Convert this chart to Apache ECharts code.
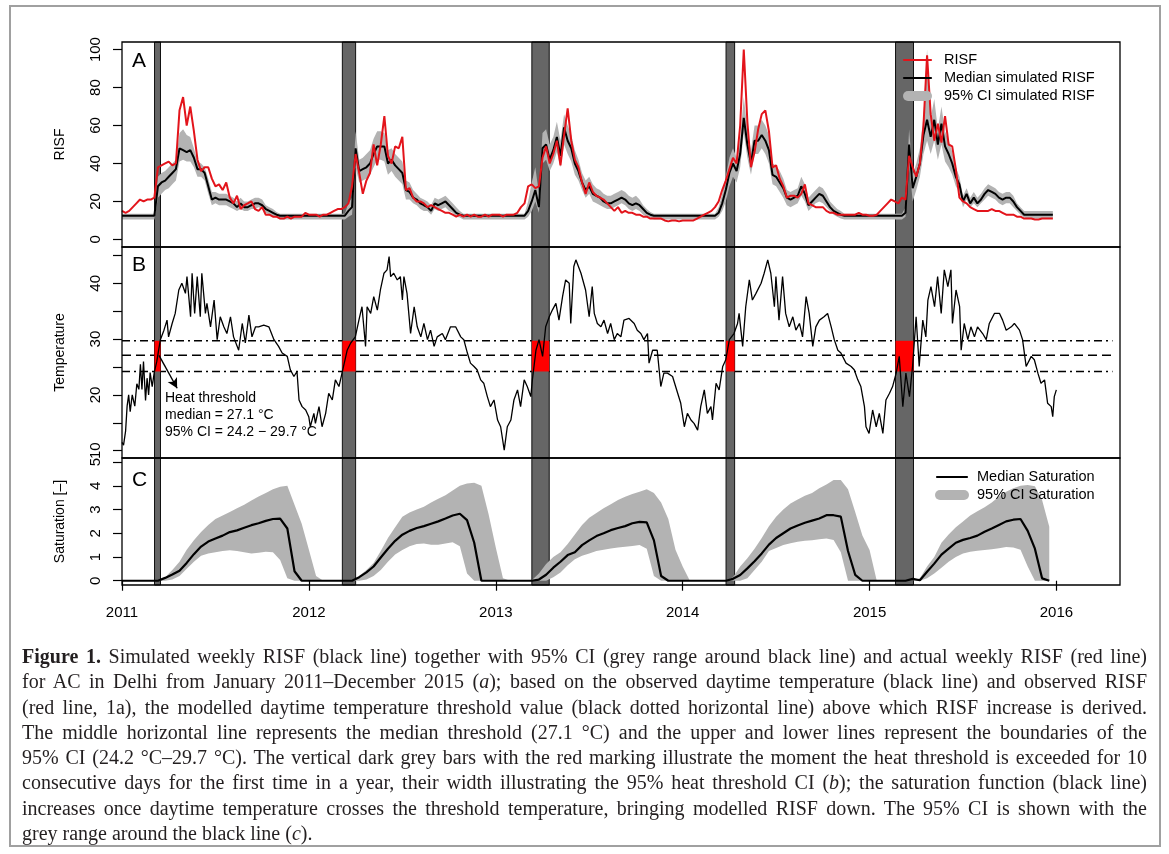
<!DOCTYPE html>
<html>
<head>
<meta charset="utf-8">
<script src="https://cdn.jsdelivr.net/npm/echarts@6/dist/echarts.min.js"></script>
<style>
html,body{margin:0;padding:0;background:#fff;}
#wrap{position:relative;width:1169px;height:854px;overflow:hidden;}
#chart{position:absolute;left:0;top:0;width:1169px;height:854px;}
#caption{position:absolute;left:22px;top:644px;width:1125px;font-family:"Liberation Serif","DejaVu Serif",serif;font-size:20px;line-height:25.3px;color:#231f20;}
#caption div{white-space:nowrap;height:25.3px;}
</style>
</head>
<body>
<div id="wrap">
<div id="chart"></div>
<div id="caption">
<div class="j"><span><b>Figure 1.</b> Simulated weekly RISF (black line) together with 95% CI (grey range around black line) and actual weekly RISF (red line)</span></div>
<div class="j"><span>for AC in Delhi from January 2011–December 2015 (<i>a</i>); based on the observed daytime temperature (black line) and observed RISF</span></div>
<div class="j"><span>(red line, 1a), the modelled daytime temperature threshold value (black dotted horizontal line) above which RISF increase is derived.</span></div>
<div class="j"><span>The middle horizontal line represents the median threshold (27.1 °C) and the upper and lower lines represent the boundaries of the</span></div>
<div class="j"><span>95% CI (24.2 °C–29.7 °C). The vertical dark grey bars with the red marking illustrate the moment the heat threshold is exceeded for 10</span></div>
<div class="j"><span>consecutive days for the first time in a year, their width illustrating the 95% heat threshold CI (<i>b</i>); the saturation function (black line)</span></div>
<div class="j"><span>increases once daytime temperature crosses the threshold temperature, bringing modelled RISF down. The 95% CI is shown with the</span></div>
<div><span>grey range around the black line (<i>c</i>).</span></div>
</div>
</div>
<script>
// ---------------- DATA ----------------
const years = [2011, 2012, 2013, 2014, 2015];
const xTicks = [2011, 2012, 2013, 2014, 2015, 2016];
const risfTicks = [0, 20, 40, 60, 80, 100];
const tempTicks = [10, 15, 20, 25, 30, 35, 40, 45];
const tempLabels = [10, 20, 30, 40];
const satTicks = [0, 1, 2, 3, 4, 5];

// threshold exceedance bars (decimal year)
const barStart = [2011.174, 2012.179, 2013.193, 2014.232, 2015.139];
const barEnd   = [2011.206, 2012.250, 2013.286, 2014.278, 2015.235];
const thrMedian = 27.1, thrLow = 24.2, thrHigh = 29.7;
const thrXStart = 2011, thrXEnd = 2016.3;

// weekly observed RISF (red)
const risfObs2011 = [15,14,15,17,19,21,20,21,21,22,38,39,40,41,39,40,68,75,60,70,57,42,36,38,38,32,28,29,26,30,22,19,23,16,18,19,20,16,15,17,13,13,12,12,11,11,12,11,12,12,12,14];
const risfObs2012 = [13,13,13,12,13,13,14,15,16,16,17,19,28,45,35,24,31,35,50,39,50,65,44,40,49,48,54,26,27,22,20,20,19,17,18,17,16,15,14,14,13,12,13,12,13,12,13,12,12,13,12,13];
const risfObs2013 = [13,13,12,13,13,13,14,17,19,28,29,27,28,43,49,40,45,52,39,55,69,52,42,38,30,24,30,25,23,22,21,19,17,15,17,14,15,14,14,13,13,12,12,11,11,11,11,10,9.5,10,10,9.5];
const risfObs2014 = [10,10,10,10,11,12,13,14,15,17,20,26,31,37,43,40,60,100,62,38,46,58,66,68,57,38,39,32,28,22,23,23,22,24,29,19,18,17,17,17,15,14,14,13,13,13,13,13,13,14,13,13];
const risfObs2015 = [12.5,12.5,13,15,17,19,21,20,19,22,21,44,38,33,40,60,97,66,52,61,51,65,50,49,37,22,20,19,17,16,15,15,15,15,16,15,15,14,13,13,13,12,12,11,11,11,10.5,10.5,11,11,11,11];

// weekly median simulated RISF (black)
const risfMed2011 = [12.5,12.5,12.5,12.5,12.5,12.5,12.5,12.5,12.5,12.5,28,30,31,33,35,37,48,47,46,47,43,37,37,35,28,21,22,21,21,21,20,19,17,19,17,17,18,19,19,18,16,15,14,13,12.5,12.5,12.5,12.5,12.5,12.5,12.5,12.5];
const risfMed2012 = [12.5,12.5,12.5,12.5,12.5,12.5,12.5,12.5,12.5,12.5,12.5,15,17,48,36,37,38,40,45,49,49,49,40,42,39,37,35,26,25,22,21,19,18,17,15,19,18,19,20,18,16,14,13,12.5,12.5,12.5,12.5,12.5,12.5,12.5,12.5,12.5];
const risfMed2013 = [12.5,12.5,12.5,12.5,12.5,12.5,12.5,12.5,12.5,15,20,26,17,48,50,42,47,54,44,59,52,48,40,36,30,26,28,24,23,22,20,19,19,20,21,22,21,19,18,19,18,16,14,13,12.5,12.5,12.5,12.5,12.5,12.5,12.5,12.5];
const risfMed2014 = [12.5,12.5,12.5,12.5,12.5,12.5,12.5,12.5,12.5,12.5,14,19,26,35,40,36,45,64,50,40,52,52,55,52,47,34,33,30,27,22,21,22,23,28,24,18,20,22,24,23,20,17,15,14,13,12.5,12.5,12.5,12.5,12.5,12.5,12.5];
const risfMed2015 = [12.5,12.5,12.5,12.5,12.5,12.5,12.5,12.5,12.5,12.5,14,50,27,33,40,55,63,54,63,50,61,49,45,40,33,29,20,24,19,22,19,21,24,26,25,24,22,21,22,22,20,17,15,13,13,13,13,13,13,13,13,13];

// weekly 95% CI of simulated RISF
const risfLo2011 = [10.5,10.5,10.5,10.5,10.5,10.5,10.5,10.5,10.5,10.5,22,24,26,27,29,31,41,42,41,41,38,33,33,31,24,18,19,18,18,18,17,16,15,16,15,15,16,16,17,16,14,13,12,11.5,10.5,10.5,10.5,10.5,10.5,10.5,10.5,10.5];
const risfHi2011 = [13.5,13.5,13.5,13.5,13.5,13.5,13.5,13.5,13.5,13.5,33,35,36,38,40,42,56,58,55,54,48,41,40,38,32,25,25,24,24,24,23,22,20,22,20,20,21,22,22,21,18,17,16,14.5,13.5,13.5,13.5,13.5,13.5,13.5,13.5,13.5];
const risfLo2012 = [10.5,10.5,10.5,10.5,10.5,10.5,10.5,10.5,10.5,10.5,10.5,12,13,38,30,31,32,34,38,42,42,41,34,36,33,31,29,21,21,19,18,16,15,15,13,16,15,16,17,15,14,12,11.5,10.5,10.5,10.5,10.5,10.5,10.5,10.5,10.5,10.5];
const risfHi2012 = [13.5,13.5,13.5,13.5,13.5,13.5,13.5,13.5,13.5,13.5,13.5,19,22,57,42,43,45,47,53,57,57,56,47,48,45,43,41,31,30,26,24,22,21,20,18,22,21,22,23,21,19,17,15,13.5,13.5,13.5,13.5,13.5,13.5,13.5,13.5,13.5];
const risfLo2013 = [10.5,10.5,10.5,10.5,10.5,10.5,10.5,10.5,10.5,12,15,20,14,40,42,36,40,46,38,50,45,41,34,31,26,22,24,20,19,18,17,16,16,17,18,19,18,16,15,16,15,13,12,11.5,10.5,10.5,10.5,10.5,10.5,10.5,10.5,10.5];
const risfHi2013 = [13.5,13.5,13.5,13.5,13.5,13.5,13.5,13.5,13.5,20,30,38,24,56,58,50,54,62,52,66,60,55,47,42,35,31,33,29,27,26,24,23,23,24,25,26,25,23,22,23,21,18,16,14.5,13.5,13.5,13.5,13.5,13.5,13.5,13.5,13.5];
const risfLo2014 = [10.5,10.5,10.5,10.5,10.5,10.5,10.5,10.5,10.5,10.5,12,15,20,28,33,30,38,56,43,34,45,45,48,45,40,29,28,25,22,18,17,18,19,23,20,15,17,19,20,19,17,15,13,12,11,10.5,10.5,10.5,10.5,10.5,10.5,10.5];
const risfHi2014 = [13.5,13.5,13.5,13.5,13.5,13.5,13.5,13.5,13.5,13.5,17,24,33,43,48,43,53,75,58,47,60,60,63,60,55,40,39,36,32,26,25,26,27,33,29,22,24,26,28,27,24,20,18,16,15,13.5,13.5,13.5,13.5,13.5,13.5,13.5];
const risfLo2015 = [10.5,10.5,10.5,10.5,10.5,10.5,10.5,10.5,10.5,10.5,12,40,20,26,33,45,52,45,52,42,50,41,38,34,28,25,17,21,17,19,17,19,21,23,22,21,19,18,19,19,17,15,13,11.5,11,11,11,11,11,11,11,11];
const risfHi2015 = [13.5,13.5,13.5,13.5,13.5,13.5,13.5,13.5,13.5,13.5,17,58,34,40,48,65,100,64,74,58,70,57,52,46,38,33,23,27,22,25,22,24,27,29,28,27,25,24,25,25,23,19,17,15,15,15,15,15,15,15,15,15];

// daytime temperature (day offset since 1 Jan 2011, degC)
const tempDay2011 = [0,3,7,10,13,16,20,25,29,33,36,39,42,46,49,52,55,59,63,68,75,82,88,91,98,104,111,117,124,127,134,137,142,147,153,156,163,166,173,180,186,192,199,205,212,218,228,235,241,248,254,261,267,277,287,297,306,313,323,329,336,342,346,352,359];
const tempC2011   = [11.5,11,13.5,18,20,17,20,18,22,21,25.5,21,26,19,23,20,24,21.5,24,26,29.9,31.6,33.4,30.4,32.8,34.6,38.8,40,38.2,41.2,34,41.8,34.6,41.2,34,41.8,34.6,36.4,32.2,37,29.9,34,32.2,31,34,30.4,28,32.8,29.3,34.3,30.4,32.2,32.2,32.5,32.2,29.9,28.7,27.5,26.9,24.5,23.3,24.2,19.1,17.9,17.3];
const tempDay2012 = [365,368,375,378,385,391,398,404,411,417,424,430,440,447,456,463,469,476,479,486,492,499,505,512,518,522,525,531,538,544,548,551,557,564,571,577,584,590,597,603,610,616,626,632,642,652,662,668,675,681,688,694,701,707,714,720,727];
const tempC2012   = [16.1,14.3,16.7,14.9,17.9,14.3,16.7,20.3,19.1,22.7,21.5,23.9,28,29.3,30.4,33.4,35.8,28.7,35.8,34.6,37.6,35.2,38.8,41.8,42.4,44.8,41.2,41.8,40.6,41.2,37,41.2,38.2,31,35.8,32.2,30.4,32.8,29.9,31.6,28.7,30.4,31,29.9,32.2,32.2,30.4,29.9,27.5,25.7,25.1,24.5,22.7,22.1,19.7,17.9,19.1];
const tempDay2013 = [734,740,747,753,760,766,773,779,786,792,799,802,809,815,822,828,835,841,848,854,861,867,874,877,883,887,897,906,913,919,923,929,936,942,949,955,962,968,975,981,991,1001,1007,1014,1020,1027,1030,1037,1046,1053,1059,1066,1076,1086,1092];
const tempC2013   = [15.5,14.3,10.1,14.3,15.5,19.1,20.9,17.9,22.7,21.5,19.7,22.7,28,29.9,26.9,32.2,34,35.2,36.4,33.4,37.6,40.6,40,32.8,43,44.2,41.8,38.8,34,39.4,34.6,32.8,32.2,33.4,31,32.8,29.9,31,30.4,33.4,33.7,32.8,31.6,31,29.9,31,25.7,28,28,21.5,23.9,23.9,23.3,20.3,18.5];
const tempDay2014 = [1099,1105,1112,1118,1125,1131,1138,1144,1151,1154,1161,1167,1174,1180,1187,1196,1203,1206,1213,1219,1226,1232,1239,1249,1255,1262,1268,1275,1278,1284,1291,1297,1304,1311,1317,1324,1330,1337,1343,1350,1356,1363,1372,1379,1386,1392,1399,1405,1415,1425,1431,1438,1444,1451,1454];
const tempC2014   = [14.3,16.7,15.5,14.9,13.7,17.9,20.9,16.7,17.9,15.5,22.1,20.9,25.1,26.3,29.9,31,32.8,34.6,28.7,35.8,40.6,37,38.2,40,41.8,44.2,41.8,35.8,41.2,33.4,41.2,34.6,32.2,34,31.6,32.8,30.4,37.6,34.6,28.7,32.2,33.4,34,34.6,32.2,29.9,28,27.5,25.7,25.1,24.5,22.7,21.5,17.9,14.3];
const tempDay2015 = [1460,1467,1474,1480,1487,1493,1500,1506,1513,1519,1526,1532,1539,1545,1552,1558,1565,1571,1575,1581,1588,1594,1601,1607,1614,1620,1623,1630,1637,1640,1646,1653,1659,1666,1672,1682,1689,1695,1705,1715,1721,1728,1738,1744,1754,1760,1767,1777,1783,1790,1796,1803,1809,1816,1819,1822,1826];
const tempC2015   = [13.1,17.3,14.3,16.7,13.1,19.1,20.3,21.5,23.9,26.9,17.9,23.9,19.7,25.1,34,25.1,33.4,30.4,37,39.4,35.8,41.2,34.6,42.4,39.4,42.4,32.8,38.8,35.8,28,32.8,29.9,32.2,30.4,32.2,31,29.9,32.8,34.6,34.6,33.4,31.6,32.2,32.8,31.6,29.9,25.1,26.9,26.3,23.9,22.1,22.7,18.5,17.9,16.1,19.7,20.9];

// bi-weekly saturation (median and 95% CI)
const satMed2011 = [0,0,0,0,0,0,0.12,0.26,0.42,0.75,1.12,1.44,1.65,1.78,1.9,2.05,2.12,2.23,2.34,2.42,2.52,2.6,2.62,2.2,0.4,0];
const satMed2012 = [0,0,0,0,0,0,0,0.15,0.35,0.6,0.98,1.35,1.68,1.94,2.1,2.22,2.3,2.4,2.5,2.62,2.75,2.82,2.55,1.6,0,0];
const satMed2013 = [0,0,0,0,0,0,0.05,0.25,0.55,0.8,1.08,1.2,1.5,1.7,1.88,2.0,2.13,2.22,2.3,2.42,2.48,2.46,1.7,0.2,0,0];
const satMed2014 = [0,0,0,0,0,0,0,0.08,0.24,0.52,0.82,1.15,1.52,1.8,2.0,2.2,2.33,2.44,2.53,2.62,2.76,2.76,2.7,1.25,0.25,0];
const satMed2015 = [0,0,0,0,0,0,0.08,0.02,0.38,0.72,1.1,1.35,1.6,1.72,1.8,1.9,2.06,2.2,2.35,2.5,2.57,2.6,2.1,1.35,0.1,0];
const satHi2011 = [0,0,0,0,0,0,0.15,0.45,0.8,1.3,1.7,2.05,2.35,2.6,2.75,2.9,3.05,3.2,3.38,3.55,3.7,3.85,3.96,4.0,3.2,2.4];
const satHi2012 = [1.3,0.2,0,0,0,0,0,0.2,0.45,0.75,1.25,1.8,2.25,2.7,2.87,3.0,3.12,3.3,3.45,3.6,3.8,4.0,4.1,4.13,4.0,2.8];
const satHi2013 = [1.4,0.1,0,0,0,0.02,0.3,0.7,1.0,1.2,1.55,1.95,2.35,2.65,2.85,3.05,3.22,3.4,3.54,3.65,3.75,3.85,3.7,3.3,2.6,1.3];
const satHi2014 = [0.6,0,0,0,0,0,0,0.15,0.6,0.95,1.35,1.8,2.3,2.7,3.0,3.25,3.42,3.58,3.7,3.9,4.05,4.24,4.24,3.85,2.9,1.9];
const satHi2015 = [1.29,0,0,0,0,0,0,0.1,0.6,1.0,1.6,1.95,2.25,2.5,2.75,2.93,3.1,3.3,3.55,3.75,3.9,4.0,4.03,3.98,3.4,2.27];
const satLo2011 = [0,0,0,0,0,0,0,0.05,0.2,0.5,0.8,1.05,1.15,1.2,1.25,1.28,1.25,1.2,1.15,1.18,1.22,1.2,0.87,0.1,0,0];
const satLo2012 = [0,0,0,0,0,0,0,0,0.05,0.2,0.45,0.8,1.1,1.29,1.45,1.55,1.57,1.52,1.52,1.57,1.62,1.45,0.3,0,0,0];
const satLo2013 = [0,0,0,0,0,0,0,0,0.15,0.35,0.65,0.9,1.05,1.15,1.25,1.3,1.36,1.4,1.43,1.46,1.5,1.35,0.2,0,0,0];
const satLo2014 = [0,0,0,0,0,0,0,0,0,0.1,0.45,0.8,1.25,1.38,1.5,1.58,1.64,1.68,1.71,1.75,1.78,1.72,1.2,0,0,0];
const satLo2015 = [0,0,0,0,0,0,0,0,0.1,0.3,0.55,0.8,1.0,1.15,1.22,1.26,1.29,1.33,1.37,1.42,1.4,1.3,0.6,0,0,0];

// ---------------- BUILD ----------------
function seriesByYear(arrs, weeksPerStep) {
  const out = [];
  arrs.forEach((arr, i) => arr.forEach((v, k) => out.push([years[i] + k * weeksPerStep / 52, v])));
  return out;
}
const risfObs = seriesByYear([risfObs2011, risfObs2012, risfObs2013, risfObs2014, risfObs2015], 1);
const risfMed = seriesByYear([risfMed2011, risfMed2012, risfMed2013, risfMed2014, risfMed2015], 1);
const risfLo = seriesByYear([risfLo2011, risfLo2012, risfLo2013, risfLo2014, risfLo2015], 1);
const risfHi = seriesByYear([risfHi2011, risfHi2012, risfHi2013, risfHi2014, risfHi2015], 1);
const satMed = seriesByYear([satMed2011, satMed2012, satMed2013, satMed2014, satMed2015], 2);
const satLo = seriesByYear([satLo2011, satLo2012, satLo2013, satLo2014, satLo2015], 2);
const satHi = seriesByYear([satHi2011, satHi2012, satHi2013, satHi2014, satHi2015], 2);
const tempDays = [].concat(tempDay2011, tempDay2012, tempDay2013, tempDay2014, tempDay2015);
const tempVals = [].concat(tempC2011, tempC2012, tempC2013, tempC2014, tempC2015);
const temp = tempDays.map((d, i) => [2011 + d / 365.25, tempVals[i]]);

const FONT = 'Liberation Sans';
const L = 122, W = 998;
const grids = [
  { left: L, top: 42, width: W, height: 205 },
  { left: L, top: 247, width: W, height: 211 },
  { left: L, top: 458, width: W, height: 127 }
];
const GREY_BAND = '#b3b3b3';
const BAR = '#666666';
const RED = '#e3141b';

function xAxis(i) {
  const base = { type: 'value', gridIndex: i, min: 2011, max: 2016.34, splitLine: { show: false } };
  if (i < 2) return Object.assign(base, { show: false });
  return Object.assign(base, {
    axisLine: { show: false },
    axisTick: { show: true, customValues: xTicks, length: 10, lineStyle: { color: '#000', width: 1.2 } },
    axisLabel: { customValues: xTicks, margin: 20, fontSize: 15, color: '#000', fontFamily: FONT, formatter: v => String(v) }
  });
}
function yAxis(i, min, max, ticks, labels, name) {
  return {
    type: 'value', gridIndex: i, min, max, name, nameLocation: 'middle', nameGap: 55,
    nameTextStyle: { fontSize: 14, color: '#000', fontFamily: FONT },
    splitLine: { show: false }, axisLine: { show: false },
    axisTick: { show: true, customValues: ticks, length: 9, lineStyle: { color: '#000', width: 1.2 } },
    axisLabel: { customValues: labels, rotate: 90, margin: 19, fontSize: 15, color: '#000', fontFamily: FONT }
  };
}
function bandSeries(g, hi, lo, color, z) {
  return {
    type: 'custom', xAxisIndex: g, yAxisIndex: g, z, silent: true, clip: true,
    data: [hi[0]],
    renderItem(params, api) {
      const pts = hi.map(p => api.coord(p));
      for (let i = lo.length - 1; i >= 0; i--) pts.push(api.coord(lo[i]));
      return { type: 'polygon', shape: { points: pts }, style: { fill: color } };
    }
  };
}
function barSeries(g) {
  return {
    type: 'custom', xAxisIndex: g, yAxisIndex: g, z: 1, silent: true,
    data: barStart.map((s, i) => [s, barEnd[i]]),
    renderItem(params, api) {
      const cs = params.coordSys;
      const x0 = api.coord([api.value(0), 0])[0];
      const x1 = api.coord([api.value(1), 0])[0];
      return { type: 'rect', shape: { x: x0, y: cs.y, width: x1 - x0, height: cs.height },
        style: { fill: BAR, stroke: '#111', lineWidth: 1 } };
    }
  };
}
function thrLine(v, dash) {
  return {
    type: 'line', xAxisIndex: 1, yAxisIndex: 1, z: 0, silent: true, symbol: 'none',
    data: [[thrXStart, v], [thrXEnd, v]],
    lineStyle: { color: '#000', width: 1.6, type: dash }
  };
}

const series = [
  // panel A
  barSeries(0),
  bandSeries(0, risfHi, risfLo, GREY_BAND, 2),
  { type: 'line', xAxisIndex: 0, yAxisIndex: 0, z: 3, symbol: 'none', data: risfMed, lineStyle: { color: '#000', width: 2 } },
  { type: 'line', xAxisIndex: 0, yAxisIndex: 0, z: 4, symbol: 'none', data: risfObs, lineStyle: { color: RED, width: 2 } },
  // panel B
  thrLine(thrHigh, [8, 4, 2, 4]),
  thrLine(thrMedian, [9, 5]),
  thrLine(thrLow, [8, 4, 2, 4]),
  barSeries(1),
  {
    type: 'custom', xAxisIndex: 1, yAxisIndex: 1, z: 2, silent: true,
    data: barStart.map((s, i) => [s, barEnd[i], thrLow, thrHigh]),
    renderItem(params, api) {
      const p0 = api.coord([api.value(0), api.value(3)]);
      const p1 = api.coord([api.value(1), api.value(2)]);
      return { type: 'rect', shape: { x: p0[0], y: p0[1], width: p1[0] - p0[0], height: p1[1] - p0[1] }, style: { fill: '#ff0000' } };
    }
  },
  { type: 'line', xAxisIndex: 1, yAxisIndex: 1, z: 4, symbol: 'none', data: temp, lineStyle: { color: '#000', width: 1.3 } },
  {
    type: 'line', xAxisIndex: 1, yAxisIndex: 1, z: 5, symbol: 'none', data: [[2011.198, thrMedian]],
    markLine: {
      silent: true, symbol: ['none', 'arrow'], symbolSize: [8, 10], label: { show: false },
      lineStyle: { color: '#000', width: 1.4, type: 'solid' },
      data: [[{ coord: [2011.198, thrMedian] }, { coord: [2011.295, 21.2] }]]
    }
  },
  // panel C
  barSeries(2),
  bandSeries(2, satHi, satLo, GREY_BAND, 2),
  { type: 'line', xAxisIndex: 2, yAxisIndex: 2, z: 3, symbol: 'none', data: satMed, lineStyle: { color: '#000', width: 2.2 } }
];

// graphic overlays: panel boxes, letters, legends, annotation, outer frame
const g = [];
grids.forEach(gr => g.push({ type: 'rect', z: 100, silent: true,
  shape: { x: gr.left, y: gr.top, width: gr.width, height: gr.height },
  style: { fill: 'none', stroke: '#000', lineWidth: 1.3 } }));
[['A', 61], ['B', 265], ['C', 480]].forEach(([t, y]) => g.push({ type: 'text', z: 101, x: 132, y,
  style: { text: t, fontSize: 21, fontFamily: FONT, fill: '#000', verticalAlign: 'middle' } }));
function legendLine(x0, x1, y, color, w) {
  g.push({ type: 'line', z: 101, shape: { x1: x0, y1: y, x2: x1, y2: y }, style: { stroke: color, lineWidth: w, lineCap: 'round' } });
}
function legendText(x, y, t) {
  g.push({ type: 'text', z: 101, x, y, style: { text: t, fontSize: 14.5, fontFamily: FONT, fill: '#000', verticalAlign: 'middle' } });
}
legendLine(904, 931, 60, RED, 2.2); legendText(944, 60, 'RISF');
legendLine(904, 931, 78, '#000', 2.2); legendText(944, 78, 'Median simulated RISF');
legendLine(908, 927, 96, GREY_BAND, 10); legendText(944, 96, '95% CI simulated RISF');
legendLine(937, 967, 477, '#000', 2.2); legendText(977, 477, 'Median Saturation');
legendLine(940, 964, 495, GREY_BAND, 10); legendText(977, 495, '95% CI Saturation');
['Heat threshold', 'median = 27.1 °C', '95% CI = 24.2 − 29.7 °C'].forEach((t, i) =>
  g.push({ type: 'text', z: 101, x: 165, y: 398 + i * 17, style: { text: t, fontSize: 14, fontFamily: FONT, fill: '#000', verticalAlign: 'middle' } }));
g.push({ type: 'rect', z: 0, silent: true, shape: { x: 10, y: 6, width: 1150, height: 840 }, style: { fill: 'none', stroke: '#a0a0a0', lineWidth: 2 } });

const chart = echarts.init(document.getElementById('chart'), null, { renderer: 'canvas' });
chart.setOption({
  animation: false,
  backgroundColor: '#fff',
  grid: grids.map(gr => Object.assign({ outerBoundsMode: 'none', containLabel: false }, gr)),
  xAxis: [0, 1, 2].map(xAxis),
  yAxis: [
    yAxis(0, -4, 104, risfTicks, risfTicks, 'RISF'),
    yAxis(1, 8.7, 46.5, tempTicks, tempLabels, 'Temperature'),
    yAxis(2, -0.18, 5.17, satTicks, satTicks, 'Saturation [–]')
  ],
  series,
  graphic: { elements: g }
});

// justify caption lines
document.querySelectorAll('#caption div.j').forEach(div => {
  const span = div.querySelector('span');
  const txt = span.textContent;
  const spaces = (txt.match(/ /g) || []).length;
  const w = span.getBoundingClientRect().width;
  if (spaces > 0) span.style.wordSpacing = ((1125 - w) / spaces) + 'px';
});
</script>
</body>
</html>
